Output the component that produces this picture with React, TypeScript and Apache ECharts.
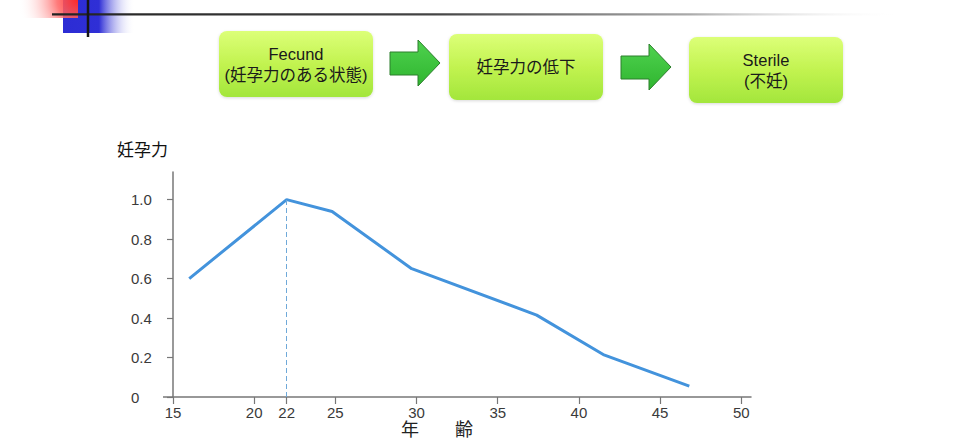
import React, { useEffect, useRef } from 'react';
import * as echarts from 'echarts';

// ---- data ----
const ages = [16, 22, 24.8, 29.7, 37.4, 41.5, 46.8];
const fecundity = [0.6, 1.0, 0.94, 0.65, 0.415, 0.215, 0.055];
const xTicks = [15, 20, 22, 25, 30, 35, 40, 45, 50];
const yTicks = [0, 0.2, 0.4, 0.6, 0.8, 1.0];
const peakAge = 22;
const peakValue = 1.0;
const stage1 = ['Fecund', '(妊孕力のある状態)'];
const stage2 = ['妊孕力の低下'];
const stage3 = ['Sterile', '(不妊)'];
const yAxisTitle = '妊孕力';
const xAxisTitle = '年　　齢';

const CJK = "'Liberation Sans', 'Noto Sans CJK JP', sans-serif";

function box(x: number, y: number, w: number, h: number, lines: string[]) {
  const cx = x + w / 2;
  const cy = y + h / 2;
  const lh = 21;
  const startY = cy - ((lines.length - 1) * lh) / 2;
  return [
    {
      type: 'rect',
      shape: { x, y, width: w, height: h, r: 8 },
      style: {
        fill: new echarts.graphic.LinearGradient(0, 0, 0, 1, [
          { offset: 0, color: '#dcff78' },
          { offset: 0.5, color: '#c2f350' },
          { offset: 1, color: '#a3e63c' },
        ]),
        shadowBlur: 3,
        shadowColor: 'rgba(0,0,0,0.15)',
        shadowOffsetY: 1,
      },
    },
    ...lines.map((t, i) => ({
      type: 'text',
      x: cx,
      y: startY + i * lh,
      style: {
        text: t,
        fill: '#1a1a1a',
        font: `16.5px ${CJK}`,
        align: 'center',
        verticalAlign: 'middle',
      },
    })),
  ];
}

function arrow(x: number, y: number) {
  return {
    type: 'polygon',
    shape: {
      points: [
        [x, y + 12],
        [x + 28, y + 12],
        [x + 28, y],
        [x + 50, y + 23],
        [x + 28, y + 46],
        [x + 28, y + 35],
        [x, y + 35],
      ],
    },
    style: {
      fill: new echarts.graphic.LinearGradient(0, 0, 0, 1, [
        { offset: 0, color: '#4fd24f' },
        { offset: 1, color: '#2fb52f' },
      ]),
      stroke: '#2c7f2c',
      lineWidth: 1,
    },
  };
}

export default function App() {
  const ref = useRef<HTMLDivElement>(null);
  useEffect(() => {
    document.body.style.margin = '0';
    if (!ref.current) return;
    const chart = echarts.init(ref.current, undefined, { renderer: 'svg' });
    const option: any = {
      animation: false,
      backgroundColor: '#ffffff',
      grid: { left: 173, top: 172, right: 209, bottom: 43, containLabel: false },
      xAxis: {
        type: 'value',
        min: 15,
        max: 50.6,
        axisLine: { show: true, lineStyle: { color: '#777', width: 1.5 } },
        axisTick: {
          show: true,
          inside: false,
          length: 7,
          customValues: xTicks,
          lineStyle: { color: '#777', width: 1.2 },
        },
        axisLabel: {
          customValues: xTicks,
          margin: 8,
          color: '#3a3a3a',
          fontSize: 15,
          fontFamily: CJK,
        },
        splitLine: { show: false },
      },
      yAxis: {
        type: 'value',
        min: 0,
        max: 1.14,
        axisLine: { show: true, lineStyle: { color: '#777', width: 1.5 } },
        axisTick: {
          show: true,
          length: 6,
          customValues: yTicks,
          lineStyle: { color: '#777', width: 1.2 },
        },
        axisLabel: {
          customValues: yTicks,
          align: 'left',
          margin: 42,
          color: '#3a3a3a',
          fontSize: 15,
          fontFamily: CJK,
          formatter: (v: number) => (v === 0 ? '0' : v.toFixed(1)),
        },
        splitLine: { show: false },
      },
      series: [
        {
          type: 'line',
          data: ages.map((a, i) => [a, fecundity[i]]),
          symbol: 'none',
          lineStyle: { color: '#4393dc', width: 3 },
          markLine: {
            silent: true,
            symbol: 'none',
            label: { show: false },
            lineStyle: { color: '#6fa9d9', width: 1, type: [5, 3] },
            data: [[{ coord: [peakAge, 0] }, { coord: [peakAge, peakValue] }]],
          },
          z: 3,
        },
      ],
      graphic: [
        // header decoration
        {
          type: 'rect',
          shape: { x: 63, y: 0, width: 72, height: 33 },
          style: {
            fill: new echarts.graphic.LinearGradient(0, 0, 1, 0, [
              { offset: 0, color: '#2c2cd4' },
              { offset: 0.5, color: '#2f2fd6' },
              { offset: 1, color: 'rgba(255,255,255,0)' },
            ]),
          },
        },
        {
          type: 'rect',
          shape: { x: 0, y: 0, width: 78, height: 18 },
          style: {
            fill: new echarts.graphic.RadialGradient(78, 0, 60, [
              { offset: 0, color: 'rgba(255,40,40,1)' },
              { offset: 0.35, color: 'rgba(255,100,100,0.85)' },
              { offset: 1, color: 'rgba(255,255,255,0)' },
            ], true),
          },
        },
        {
          type: 'rect',
          shape: { x: 52, y: 13.3, width: 850, height: 2.2 },
          style: {
            fill: new echarts.graphic.LinearGradient(0, 0, 1, 0, [
              { offset: 0, color: '#222' },
              { offset: 0.45, color: '#444' },
              { offset: 0.75, color: '#aaa' },
              { offset: 1, color: 'rgba(255,255,255,0)' },
            ]),
          },
        },
        {
          type: 'line',
          shape: { x1: 88, y1: 0, x2: 88, y2: 37 },
          style: { stroke: '#151515', lineWidth: 2.5 },
        },
        // flow boxes
        ...box(219, 31, 154, 66, stage1),
        arrow(390, 40),
        ...box(449, 34, 154, 66, stage2),
        arrow(621, 44),
        ...box(689, 37, 154, 66, stage3),
        // axis titles
        {
          type: 'text',
          x: 117,
          y: 142,
          style: { text: yAxisTitle, fill: '#111', font: `17px ${CJK}` },
        },
        {
          type: 'text',
          x: 401,
          y: 421,
          style: { text: xAxisTitle, fill: '#222', font: `18px ${CJK}` },
        },
        // small extension of x axis line to the left of the y axis
        {
          type: 'line',
          shape: { x1: 163, y1: 397, x2: 173, y2: 397 },
          style: { stroke: '#777', lineWidth: 1.5 },
        },
      ],
    };
    chart.setOption(option);
    return () => chart.dispose();
  }, []);
  return <div ref={ref} style={{ width: 960, height: 440 }} />;
}
